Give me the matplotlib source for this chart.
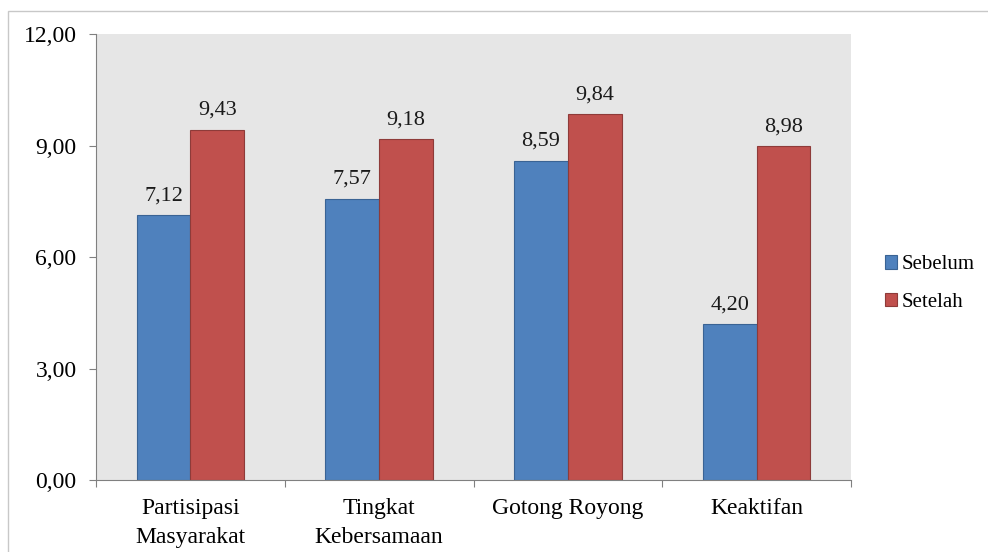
import matplotlib.pyplot as plt
import numpy as np
from matplotlib.patches import Rectangle

categories = ["Partisipasi\nMasyarakat", "Tingkat\nKebersamaan", "Gotong Royong", "Keaktifan"]
sebelum = [7.12, 7.57, 8.59, 4.20]
setelah = [9.43, 9.18, 9.84, 8.98]
yticks = [0, 3, 6, 9, 12]

plt.rcParams["font.family"] = ["Liberation Serif", "DejaVu Serif"]

fig = plt.figure(figsize=(9.88, 5.52), dpi=100)
ax = fig.add_axes([0.0972, 0.1304, 0.7642, 0.8080])
ax.set_facecolor("#e6e6e6")

x = np.arange(len(categories))
w = 0.285
b1 = ax.bar(x - w / 2, sebelum, w, color="#4f81bd", edgecolor="#3a6394", linewidth=0.8, label="Sebelum")
b2 = ax.bar(x + w / 2, setelah, w, color="#c0504d", edgecolor="#8e3b39", linewidth=0.8, label="Setelah")

for bars, vals in ((b1, sebelum), (b2, setelah)):
    for r, v in zip(bars, vals):
        ax.annotate(f"{v:.2f}".replace(".", ","), (r.get_x() + r.get_width() / 2, v),
                    xytext=(0, 7), textcoords="offset points",
                    ha="center", va="bottom", fontsize=16, color="#1a1a1a")

ax.set_xlim(-0.5, len(categories) - 0.5)
ax.set_ylim(0, 12)
ax.set_yticks(yticks)
ax.set_yticklabels([f"{t:.2f}".replace(".", ",") for t in yticks], fontsize=17)
ax.set_xticks(np.arange(len(categories) + 1) - 0.5, minor=False)
ax.set_xticklabels([])
ax.set_xticks(x, minor=True)
ax.set_xticklabels(categories, minor=True, fontsize=17, linespacing=1.5)
ax.tick_params(axis="x", which="minor", length=0, pad=13)
ax.tick_params(axis="x", which="major", length=5, color="#808080")
ax.tick_params(axis="y", length=5, color="#808080", pad=9)

for s in ("top", "right"):
    ax.spines[s].set_visible(False)
for s in ("left", "bottom"):
    ax.spines[s].set_color("#808080")

ax.legend(loc="center left", bbox_to_anchor=(1.02, 0.44), frameon=False, fontsize=15,
          handlelength=0.6, handleheight=0.6, handletextpad=0.2, labelspacing=0.9)

fig.patches.append(Rectangle((8 / 988, -0.01), 1.0, 1 - 11 / 552 + 0.01, transform=fig.transFigure,
                             fill=False, edgecolor="#c8c8c8", linewidth=1))

fig.savefig("out.png", dpi=100)
